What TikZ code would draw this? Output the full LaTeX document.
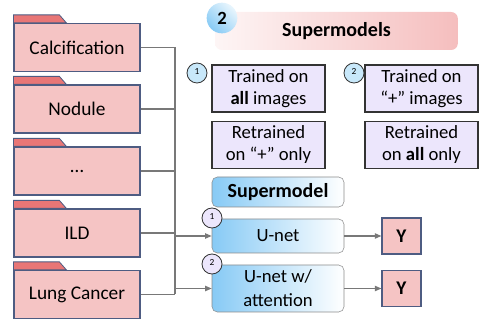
\documentclass[tikz,border=0pt]{standalone}
\usepackage{fontspec}
\setmainfont{Carlito}
\usetikzlibrary{arrows.meta}
\definecolor{folderpink}{RGB}{245,196,196}
\definecolor{foldertab}{RGB}{232,118,118}
\definecolor{folderedge}{RGB}{78,92,130}
\definecolor{boxlilac}{RGB}{236,230,252}
\definecolor{smblue}{RGB}{135,202,245}
\definecolor{circblue}{RGB}{200,232,250}
\definecolor{linkgray}{RGB}{120,120,120}
\definecolor{bannerpink}{RGB}{245,190,190}

\tikzset{
  folder/.style={draw=folderedge, fill=folderpink, line width=0.9pt,
    minimum width=94.5pt, minimum height=36pt, font=\fontsize{14.5}{16}\selectfont},
  tabpart/.style={draw=folderedge, fill=foldertab, line width=0.6pt},
  link/.style={draw=linkgray, line width=0.9pt},
  arrow/.style={link, -{Triangle[length=5pt,width=4pt]}},
  choice/.style={draw=black!80, fill=boxlilac, line width=0.8pt, align=center,
    minimum width=84.75pt, minimum height=35.25pt, inner sep=1pt,
    font=\fontsize{14}{16.5}\selectfont},
  model/.style={draw=black!45, rounded corners=4pt, left color=smblue, right color=white,
    minimum width=99pt, align=center, inner sep=1pt, font=\fontsize{14}{18}\selectfont},
  outbox/.style={draw=folderedge, fill=folderpink, line width=0.8pt,
    minimum width=29.25pt, minimum height=27pt, font=\fontsize{14.5}{16}\selectfont\bfseries},
  numdot/.style={circle, draw=black!80, line width=0.6pt, minimum size=15pt,
    inner sep=0pt, font=\fontsize{7}{7}\selectfont},
}

\begin{document}
\begin{tikzpicture}[x=0.75pt, y=-0.75pt]
  \useasboundingbox (0,0) rectangle (479,324);

  % title banner
  \node[rounded corners=5pt, left color=bannerpink!15, right color=bannerpink,
    minimum width=182pt, minimum height=28.5pt, font=\fontsize{15}{16}\selectfont\bfseries]
    (banner) at (336.5,31) {Supermodels};
  \node[circle, minimum size=23pt, inner sep=0pt, left color=smblue, right color=circblue!40,
    shading angle=135, font=\fontsize{14}{14}\selectfont\bfseries] (step2) at (222,18) {2};

  % bus
  \coordinate (bustop) at (175,47.5);
  \coordinate (busbot) at (175,294.5);
  \draw[link] (bustop) -- (busbot);

  % folders
  \foreach \name/\txt/\yy in {calc/Calcification/47.5, nod/Nodule/109,
      more/\dots/171, ild/ILD/233, lung/Lung Cancer/294.5} {
    \node[folder] (\name) at (77,\yy) {\txt};
    \draw[tabpart] (\name.north west) -- ++(0,-8) -- ++(46,0) -- ++(7,8) -- cycle;
    \draw[link] (\name.east) -- (\name.east -| bustop);
  }

  % training choices
  \node[choice] (allimg) at (268.5,88.5) {Trained on\\\textbf{all} images};
  \node[choice] (retplus) at (268.5,145) {Retrained\\on “+” only};
  \node[choice] (plusimg) at (421.5,88.5) {Trained on\\“+” images};
  \node[choice] (retall) at (421.5,145) {Retrained\\on \textbf{all} only};
  \node[numdot, fill=circblue] (opt1) at (197,73) {\raisebox{3pt}{1}};
  \node[numdot, fill=circblue] (opt2) at (354,73) {\raisebox{3pt}{2}};

  % models
  \node[model, minimum height=22.5pt, font=\fontsize{15}{16}\selectfont\bfseries]
    (supm) at (278,192) {Supermodel};
  \node[model, minimum height=25.5pt] (unet) at (278,236) {U-net};
  \node[model, minimum height=35.25pt] (attn) at (278,288.5) {U-net w/\\attention};
  \node[numdot, fill=boxlilac] (mod1) at (212,218) {\raisebox{3pt}{1}};
  \node[numdot, fill=boxlilac] (mod2) at (212,264) {\raisebox{3pt}{2}};

  % outputs
  \node[outbox] (y1) at (401.5,236) {Y};
  \node[outbox] (y2) at (401.5,288.5) {Y};

  \draw[arrow] (unet.west -| bustop) -- (unet.west);
  \draw[arrow] (attn.west -| bustop) -- (attn.west);
  \draw[arrow] (unet) -- (y1);
  \draw[arrow] (attn) -- (y2);
\end{tikzpicture}
\end{document}
